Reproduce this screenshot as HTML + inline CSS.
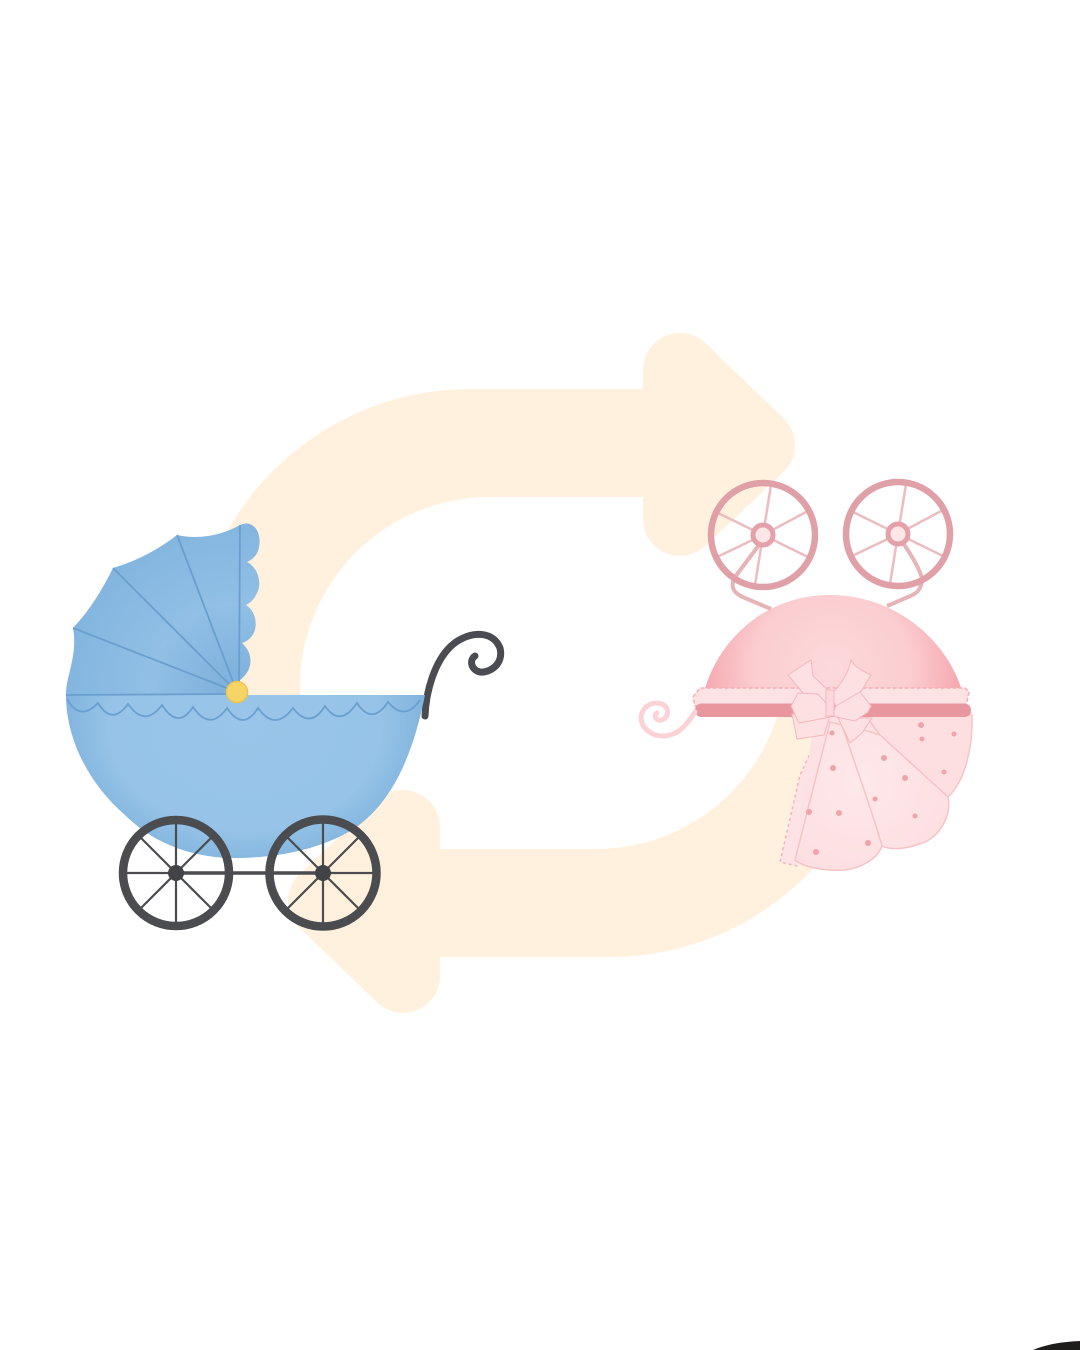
<!DOCTYPE html>
<html lang="en">
<head>
<meta charset="utf-8">
<title>Blue and pink prams with exchange arrows</title>
<style>
html,body{margin:0;padding:0;background:#fff}
svg{display:block}
</style>
</head>
<body>
<svg xmlns="http://www.w3.org/2000/svg" width="1080" height="1350" viewBox="0 0 1080 1350">
<defs>
<radialGradient id="bowlG" gradientUnits="userSpaceOnUse" cx="245" cy="725" r="190" gradientTransform="translate(245 725) scale(1 .78) translate(-245 -725)">
<stop offset="0" stop-color="#98c5e9"/><stop offset=".72" stop-color="#96c3e7"/><stop offset="1" stop-color="#7db1dc"/>
</radialGradient>
<radialGradient id="canG" gradientUnits="userSpaceOnUse" cx="237" cy="692" r="175">
<stop offset="0" stop-color="#7cafdb"/><stop offset=".5" stop-color="#91bfe5"/><stop offset="1" stop-color="#82b5df"/>
</radialGradient>
<radialGradient id="pinkTop" gradientUnits="userSpaceOnUse" cx="832" cy="670" r="132">
<stop offset="0" stop-color="#fcd9db"/><stop offset=".6" stop-color="#fbcdd0"/><stop offset="1" stop-color="#f5a6ad"/>
</radialGradient>
<radialGradient id="pinkSk" gradientUnits="userSpaceOnUse" cx="860" cy="780" r="120">
<stop offset="0" stop-color="#fee8ea"/><stop offset="1" stop-color="#fcdde0"/>
</radialGradient>
</defs>

<rect width="1080" height="1350" fill="#fff"/>

<g fill="#fff1dd" stroke="#fff1dd">
<g>
<path d="M192 705 L192 667 A278 278 0 0 1 470 389 L690 389 L690 497 L490 497 A190 190 0 0 0 300 687 L300 705Z" stroke="none"/>
<polygon points="680,370 758,445 680,519" stroke-width="74" stroke-linejoin="round"/>
</g>
<g>
<path d="M888 679 A278 278 0 0 1 610 957 L390 957 L390 849 L596 849 A190 190 0 0 0 786 659Z" stroke="none"/>
<polygon points="403,827 325,901 403,976" stroke-width="74" stroke-linejoin="round"/>
</g>
</g>

<g>
<path d="M425 716 C426 690 435 662 450 647 C465 632 492 628 500 648 C504 664 490 673 480 672 C471 670 469 660 475 656" fill="none" stroke="#4a4c52" stroke-width="7" stroke-linecap="round"/>
<path d="M66 695 L425 695 C412 760 390 805 352 830 C315 852 270 858 235 858 C195 858 155 845 125 815 C90 785 66 740 66 695Z" fill="url(#bowlG)"/>
<path d="M66 695 C66 675 78 655 73 628 C90 610 102 590 113 568 C140 560 160 548 177 535 C200 540 222 535 240 525 C253 519 262 532 259 547 C258 555 252 560 247 562 C259 568 262 585 257 593 C254 600 250 603 246 605 C257 612 258 628 252 636 C249 640 245 642 242 643 C252 652 253 665 246 674 C243 678 240 680 238 682 L237 695Z" fill="url(#canG)"/>
<g stroke="#6a9fcd" stroke-width="1.8" fill="none">
<line x1="237" y1="694" x2="66" y2="695"/>
<line x1="237" y1="692" x2="73" y2="628"/>
<line x1="237" y1="692" x2="113" y2="568"/>
<line x1="237" y1="692" x2="177" y2="535"/>
<line x1="239" y1="692" x2="240" y2="525"/>
</g>
<path d="M67 699 Q80 722 98 703 Q112 726 128 704 Q145 728 162 705 Q178 730 193 707 Q210 732 227 708 Q243 732 258 708 Q275 732 293 708 Q310 730 325 706 Q340 728 357 703 Q372 726 388 702 Q405 722 420 700" fill="none" stroke="#6a9fce" stroke-width="1.8"/>
<circle cx="237" cy="692" r="10.500" fill="#f6d566" stroke="#edc44f" stroke-width="1.500"/>
<line x1="176" y1="873" x2="323" y2="873" stroke="#4a4c50" stroke-width="3.500"/>
<g transform="translate(176 873)" stroke="#4a4c50" fill="none">
<circle r="53" stroke-width="8.500"/>
<g stroke-width="2.200"><line x1="-53" x2="53"/><line y1="-53" y2="53"/><line x1="-38" y1="-38" x2="38" y2="38"/><line x1="-38" y1="38" x2="38" y2="-38"/></g>
<circle r="8" fill="#414347" stroke="none"/>
</g>
<g transform="translate(323 873)" stroke="#4a4c50" fill="none">
<circle r="53.500" stroke-width="8.500"/>
<g stroke-width="2.200"><line x1="-53" x2="53"/><line y1="-53" y2="53"/><line x1="-38" y1="-38" x2="38" y2="38"/><line x1="-38" y1="38" x2="38" y2="-38"/></g>
<circle r="8" fill="#414347" stroke="none"/>
</g>
</g>

<g>
<path d="M759 545 L735 577 C729 588 735 594 745 598 L771 609" fill="none" stroke="#e6b3b7" stroke-width="4"/>
<path d="M903 543 C912 556 919 568 922 578 C922 590 916 594 908 597 L887 606" fill="none" stroke="#e6b3b7" stroke-width="4"/>
<g transform="translate(763 535)" fill="none">
<g stroke="#ebbcc0" stroke-width="2.500"><line x2="8" y2="-50"/><line x2="45" y2="-24"/><line x2="45" y2="22"/><line x2="-8" y2="50"/><line x2="-46" y2="22"/><line x2="-45" y2="-22"/></g>
<circle r="52" stroke="#e0a0a7" stroke-width="6.500"/>
<circle r="10" fill="#fde6e8" stroke="#e3a2a9" stroke-width="5"/>
</g>
<g transform="translate(898 534)" fill="none">
<g stroke="#ebbcc0" stroke-width="2.500"><line x2="8" y2="-50"/><line x2="45" y2="-24"/><line x2="45" y2="22"/><line x2="-8" y2="50"/><line x2="-46" y2="22"/><line x2="-45" y2="-22"/></g>
<circle r="52" stroke="#e0a0a7" stroke-width="6.500"/>
<circle r="10" fill="#fde6e8" stroke="#e3a2a9" stroke-width="5"/>
</g>
<path d="M704 692 C718 640 765 595 830 595 C895 595 948 640 963 694Z" fill="url(#pinkTop)"/>
<g stroke="#f8c3c7" stroke-width="1.500">
<path d="M822 728 L800 775 L780 862 L797 866 L825 770Z" fill="#fde3e5" stroke="#f5b5ba" stroke-dasharray="3 3"/>
<path d="M815 712 L972 712 C973 745 966 780 948 797 C952 815 940 835 925 842 C905 850 890 850 882 846 C878 858 862 868 845 870 C825 871 805 868 795 860Z" fill="#fde2e5" stroke="none"/>
<path d="M865 715 L972 715 C973 745 966 780 948 797 L880 735Z" fill="#fddfe2"/>
<path d="M850 725 L880 735 L948 797 C952 815 940 835 925 842 C905 850 890 850 882 846 L840 745Z" fill="url(#pinkSk)"/>
<path d="M830 722 L795 860 C805 868 825 871 845 870 C862 868 878 858 882 846 C872 810 855 765 842 725Z" fill="url(#pinkSk)"/>
</g>
<g fill="#f0a3aa">
<circle cx="832" cy="733" r="2.500"/><circle cx="833" cy="768" r="3"/><circle cx="809" cy="812" r="3"/><circle cx="839" cy="813" r="3"/><circle cx="816" cy="852" r="3"/><circle cx="868" cy="843" r="3"/><circle cx="884" cy="758" r="3"/><circle cx="905" cy="778" r="3"/><circle cx="875" cy="799" r="2.500"/><circle cx="915" cy="816" r="2.500"/><circle cx="944" cy="772" r="2.500"/><circle cx="921" cy="725" r="3"/><circle cx="922" cy="739" r="2.500"/><circle cx="954" cy="734" r="2.500"/>
</g>
<path d="M693 697 L700 688 L965 688 L969 692 L966 706 L695 706Z" fill="#fde2e4" stroke="#f5b0b6" stroke-width="1.500" stroke-dasharray="4 2"/>
<rect x="695" y="703.500" width="276" height="13.500" rx="6.500" fill="#e9979f"/>
<path d="M695 712 C688 722 682 732 670 735 C655 739 642 730 641 718 C642 705 655 700 664 705 C672 712 665 722 658 720 C654 718 655 714 657 713" fill="none" stroke="#fbd2d6" stroke-width="5" stroke-linecap="round"/>
<g fill="#fde0e2" stroke="#f4b8bd" stroke-width="1">
<path d="M792 714 L830 716 L824 735 L797 739Z"/>
<path d="M838 718 L872 718 L862 733 L850 743Z"/>
<path d="M788 675 L811 660 L813 676 L830 692 L829 712 L802 692Z"/>
<path d="M851 660 C855 668 865 672 871 675 L862 690 L838 712 L831 695 C840 685 848 675 851 660Z"/>
<path d="M798 693 L818 694 L833 711 L830 717 L799 723 L791 706Z"/>
<path d="M860 692 L871 706 L868 712 L855 721 L832 716 L836 706Z"/>
<rect x="826" y="690" width="8" height="26" fill="#fdd9dc"/>
</g>
</g>

<path d="M1033 1350 Q1052 1342 1080 1341 L1080 1350Z" fill="#1f1c1c"/>
</svg>
</body>
</html>
